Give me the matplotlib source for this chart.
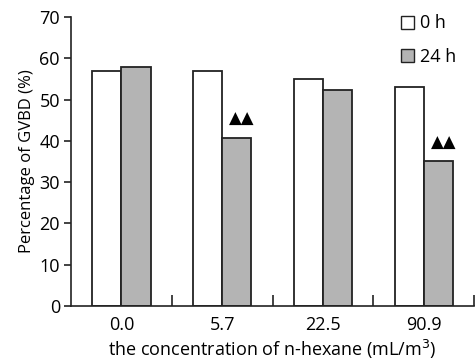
import numpy as np
import matplotlib
matplotlib.use("Agg")
import matplotlib.pyplot as plt
from matplotlib.patches import Patch

plt.rcParams['font.family'] = ['Open Sans', 'DejaVu Sans']

# datos
concentraciones = ["0.0", "5.7", "22.5", "90.9"]
gvbd_0h = [57.0, 57.0, 55.0, 53.0]
gvbd_24h = [57.8, 40.7, 52.2, 35.0]
marcas_24h = ["", "▲▲", "", "▲▲"]

fig = plt.figure(figsize=(4.75, 3.61), dpi=100)
ax = fig.add_axes([0.1495, 0.1524, 0.849, 0.8006])

x = np.arange(len(concentraciones)) + 0.5
w = 0.29
ax.bar(x - w/2, gvbd_0h, w, color="white", edgecolor="#222222", linewidth=1.3, label="0 h")
ax.bar(x + w/2, gvbd_24h, w, color="#b4b4b4", edgecolor="#222222", linewidth=1.3, label="24 h")

for xi, v, m in zip(x, gvbd_24h, marcas_24h):
    if m:
        ax.text(xi + w/2 + 0.05, v + 2.4, m, ha="center", va="bottom",
                fontsize=12, family=["DejaVu Sans"])

ax.set_xlim(0, 4)
ax.set_ylim(0, 70)
ax.set_yticks(range(0, 71, 10))
ax.set_xticks(x)
ax.set_xticklabels(concentraciones)
ax.set_xticks([1, 2, 3, 4], minor=True)
ax.tick_params(axis="x", which="major", length=0, pad=7, labelsize=13)
ax.tick_params(axis="x", which="minor", direction="in", length=8, width=1.2, color="#222222")
ax.tick_params(axis="y", direction="out", length=5, width=1.2, labelsize=13, color="#222222", pad=3)

for s in ["top", "right"]:
    ax.spines[s].set_visible(False)
for s in ["left", "bottom"]:
    ax.spines[s].set_linewidth(1.2)
    ax.spines[s].set_color("#222222")

ax.set_ylabel("Percentage of GVBD (%)", fontsize=12, labelpad=3)
ax.set_xlabel("the concentration of n-hexane (mL/m$^3$)", fontsize=13, labelpad=3)

handles = [Patch(facecolor="white", edgecolor="#222222", linewidth=1.0, label="0 h"),
           Patch(facecolor="#b4b4b4", edgecolor="#222222", linewidth=1.0, label="24 h")]
ax.legend(handles=handles, loc="upper right", bbox_to_anchor=(0.995, 1.065), frameon=False,
          fontsize=13, handlelength=0.75, handleheight=0.75, handletextpad=0.3, labelspacing=0.85)

plt.savefig("out.png", dpi=100)
